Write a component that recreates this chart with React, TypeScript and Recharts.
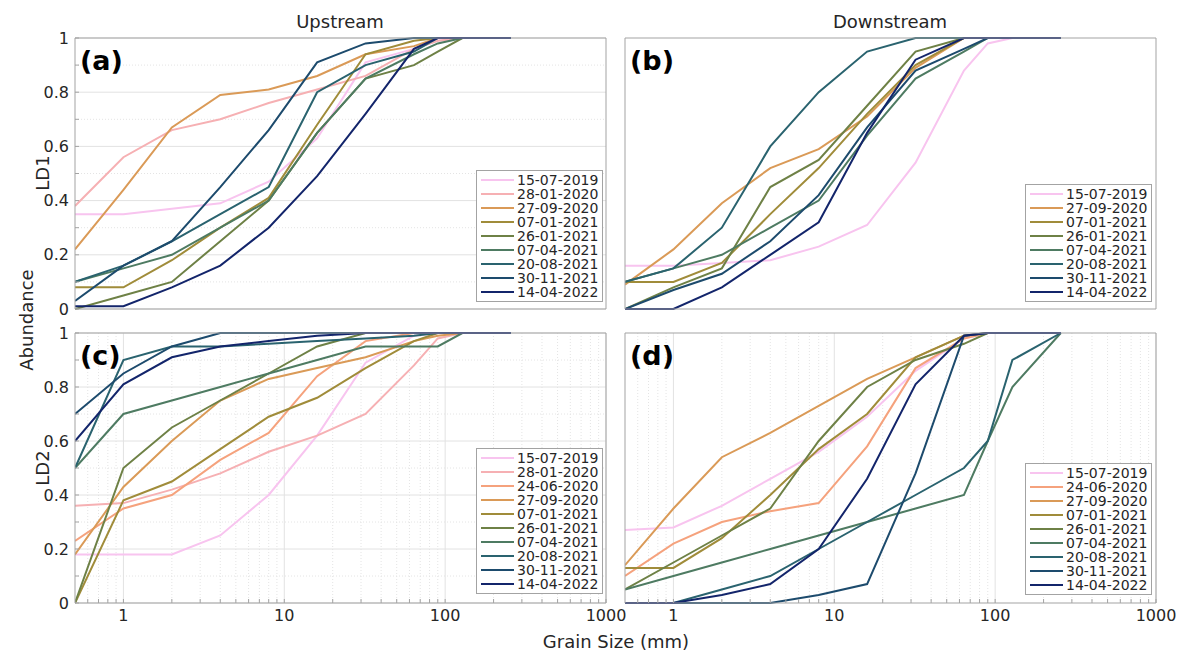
import React from "react";
import { LineChart, Line, XAxis, YAxis, CartesianGrid, Legend } from "recharts";

const FONT = "'DejaVu Sans', Verdana, sans-serif";
const AXIS = "#a3a3a3";
const TEXT = "#262626";

// grain size classes (mm)
const grainSize = [0.5, 1, 2, 4, 8, 16, 32, 64, 90, 128, 256];
const majorX = [1, 10, 100, 1000];
const minorX = [0.6, 0.7, 0.8, 0.9, 2, 3, 4, 5, 6, 7, 8, 9, 20, 30, 40, 50, 60, 70, 80, 90, 200, 300, 400, 500, 600, 700, 800, 900];
const majorY = [0, 0.2, 0.4, 0.6, 0.8, 1];
const minorY = [0.1, 0.3, 0.5, 0.7, 0.9];
const xTicks = [...majorX, ...minorX].sort((a, b) => a - b);
const yTicks = [...majorY, ...minorY].sort((a, b) => a - b);

const dateColors: Record<string, string> = {
  "15-07-2019": "#f8c4ef",
  "28-01-2020": "#f6b0b3",
  "24-06-2020": "#f5a27d",
  "27-09-2020": "#da9a57",
  "07-01-2021": "#a08c3a",
  "26-01-2021": "#6e8146",
  "07-04-2021": "#4e7b62",
  "20-08-2021": "#2a636f",
  "30-11-2021": "#1d4b6d",
  "14-04-2022": "#13256b",
};

// (a) Upstream, LD1
const upLD1_15072019 = [0.35, 0.35, 0.37, 0.39, 0.47, 0.63, 0.91, 0.96, 0.99, 1, 1];
const upLD1_28012020 = [0.38, 0.56, 0.66, 0.7, 0.76, 0.81, 0.86, 0.96, 0.99, 1, 1];
const upLD1_27092020 = [0.22, 0.44, 0.67, 0.79, 0.81, 0.86, 0.94, 0.97, 1, 1, 1];
const upLD1_07012021 = [0.08, 0.08, 0.18, 0.3, 0.41, 0.68, 0.94, 0.99, 1, 1, 1];
const upLD1_26012021 = [0, 0.05, 0.1, 0.25, 0.4, 0.65, 0.85, 0.9, 0.95, 1, 1];
const upLD1_07042021 = [0.1, 0.15, 0.2, 0.3, 0.4, 0.65, 0.85, 0.94, 0.98, 1, 1];
const upLD1_20082021 = [0.1, 0.16, 0.25, 0.35, 0.45, 0.8, 0.9, 0.95, 1, 1, 1];
const upLD1_30112021 = [0.03, 0.16, 0.25, 0.45, 0.66, 0.91, 0.98, 1, 1, 1, 1];
const upLD1_14042022 = [0.01, 0.01, 0.08, 0.16, 0.3, 0.49, 0.72, 0.96, 1, 1, 1];

// (b) Downstream, LD1
const downLD1_15072019 = [0.16, 0.16, 0.17, 0.18, 0.23, 0.31, 0.54, 0.88, 0.98, 1, 1];
const downLD1_27092020 = [0.09, 0.22, 0.39, 0.52, 0.59, 0.71, 0.89, 1, 1, 1, 1];
const downLD1_07012021 = [0.1, 0.1, 0.17, 0.35, 0.52, 0.72, 0.9, 1, 1, 1, 1];
const downLD1_26012021 = [0, 0.08, 0.15, 0.45, 0.55, 0.75, 0.95, 1, 1, 1, 1];
const downLD1_07042021 = [0.1, 0.15, 0.2, 0.3, 0.4, 0.64, 0.85, 0.95, 1, 1, 1];
const downLD1_20082021 = [0.1, 0.15, 0.3, 0.6, 0.8, 0.95, 1, 1, 1, 1, 1];
const downLD1_30112021 = [0, 0.07, 0.13, 0.25, 0.42, 0.67, 0.88, 0.96, 1, 1, 1];
const downLD1_14042022 = [0, 0, 0.08, 0.2, 0.32, 0.65, 0.92, 1, 1, 1, 1];

// (c) Upstream, LD2
const upLD2_15072019 = [0.18, 0.18, 0.18, 0.25, 0.4, 0.62, 0.89, 0.99, 1, 1, 1];
const upLD2_28012020 = [0.36, 0.37, 0.42, 0.48, 0.56, 0.62, 0.7, 0.88, 0.98, 1, 1];
const upLD2_24062020 = [0.23, 0.35, 0.4, 0.53, 0.63, 0.84, 0.97, 1, 1, 1, 1];
const upLD2_27092020 = [0.18, 0.43, 0.6, 0.75, 0.83, 0.87, 0.91, 0.97, 0.99, 1, 1];
const upLD2_07012021 = [0, 0.38, 0.45, 0.57, 0.69, 0.76, 0.87, 0.97, 1, 1, 1];
const upLD2_26012021 = [0, 0.5, 0.65, 0.75, 0.85, 0.95, 1, 1, 1, 1, 1];
const upLD2_07042021 = [0.5, 0.7, 0.75, 0.8, 0.85, 0.9, 0.95, 0.95, 0.95, 1, 1];
const upLD2_20082021 = [0.5, 0.9, 0.95, 0.95, 0.96, 0.97, 0.98, 0.99, 1, 1, 1];
const upLD2_30112021 = [0.7, 0.85, 0.95, 1, 1, 1, 1, 1, 1, 1, 1];
const upLD2_14042022 = [0.6, 0.81, 0.91, 0.95, 0.97, 0.99, 1, 1, 1, 1, 1];

// (d) Downstream, LD2
const downLD2_15072019 = [0.27, 0.28, 0.36, 0.46, 0.56, 0.69, 0.86, 0.98, 1, 1, 1];
const downLD2_24062020 = [0.1, 0.22, 0.3, 0.34, 0.37, 0.58, 0.87, 0.98, 1, 1, 1];
const downLD2_27092020 = [0.14, 0.35, 0.54, 0.63, 0.73, 0.83, 0.91, 0.99, 1, 1, 1];
const downLD2_07012021 = [0.13, 0.13, 0.24, 0.4, 0.57, 0.7, 0.91, 0.99, 1, 1, 1];
const downLD2_26012021 = [0.05, 0.15, 0.25, 0.35, 0.6, 0.8, 0.9, 0.96, 1, 1, 1];
const downLD2_07042021 = [0.05, 0.1, 0.15, 0.2, 0.25, 0.3, 0.35, 0.4, 0.6, 0.8, 1];
const downLD2_20082021 = [0, 0, 0.05, 0.1, 0.2, 0.3, 0.4, 0.5, 0.6, 0.9, 1];
const downLD2_30112021 = [0, 0, 0, 0, 0.03, 0.07, 0.48, 0.99, 1, 1, 1];
const downLD2_14042022 = [0, 0, 0.03, 0.07, 0.2, 0.46, 0.81, 0.99, 1, 1, 1];

type Series = { date: string; values: number[] };

const upLD1: Series[] = [
  { date: "15-07-2019", values: upLD1_15072019 },
  { date: "28-01-2020", values: upLD1_28012020 },
  { date: "27-09-2020", values: upLD1_27092020 },
  { date: "07-01-2021", values: upLD1_07012021 },
  { date: "26-01-2021", values: upLD1_26012021 },
  { date: "07-04-2021", values: upLD1_07042021 },
  { date: "20-08-2021", values: upLD1_20082021 },
  { date: "30-11-2021", values: upLD1_30112021 },
  { date: "14-04-2022", values: upLD1_14042022 },
];
const downLD1: Series[] = [
  { date: "15-07-2019", values: downLD1_15072019 },
  { date: "27-09-2020", values: downLD1_27092020 },
  { date: "07-01-2021", values: downLD1_07012021 },
  { date: "26-01-2021", values: downLD1_26012021 },
  { date: "07-04-2021", values: downLD1_07042021 },
  { date: "20-08-2021", values: downLD1_20082021 },
  { date: "30-11-2021", values: downLD1_30112021 },
  { date: "14-04-2022", values: downLD1_14042022 },
];
const upLD2: Series[] = [
  { date: "15-07-2019", values: upLD2_15072019 },
  { date: "28-01-2020", values: upLD2_28012020 },
  { date: "24-06-2020", values: upLD2_24062020 },
  { date: "27-09-2020", values: upLD2_27092020 },
  { date: "07-01-2021", values: upLD2_07012021 },
  { date: "26-01-2021", values: upLD2_26012021 },
  { date: "07-04-2021", values: upLD2_07042021 },
  { date: "20-08-2021", values: upLD2_20082021 },
  { date: "30-11-2021", values: upLD2_30112021 },
  { date: "14-04-2022", values: upLD2_14042022 },
];
const downLD2: Series[] = [
  { date: "15-07-2019", values: downLD2_15072019 },
  { date: "24-06-2020", values: downLD2_24062020 },
  { date: "27-09-2020", values: downLD2_27092020 },
  { date: "07-01-2021", values: downLD2_07012021 },
  { date: "26-01-2021", values: downLD2_26012021 },
  { date: "07-04-2021", values: downLD2_07042021 },
  { date: "20-08-2021", values: downLD2_20082021 },
  { date: "30-11-2021", values: downLD2_30112021 },
  { date: "14-04-2022", values: downLD2_14042022 },
];

const PAD_L = 70;
const PAD_T = 10;
const PAD_R = 30;
const PAD_B = 30;

type PanelProps = {
  series: Series[];
  tag: string;
  left: number;
  top: number;
  w: number;
  h: number;
  showX: boolean;
  showY: boolean;
  legendLeft: number;
  legendTop: number;
};

function Panel({ series, tag, left, top, w, h, showX, showY, legendLeft, legendTop }: PanelProps) {
  const data = grainSize.map((g, i) => {
    const row: Record<string, number> = { size: g };
    series.forEach((s, k) => (row["s" + k] = s.values[i]));
    return row;
  });
  const chartLeft = left - PAD_L;
  const chartTop = top - PAD_T;
  const tickFont = { fill: TEXT, fontSize: 16, fontFamily: FONT };

  const legendBox = () => (
    <div
      style={{
        background: "#fff",
        border: `1px solid ${AXIS}`,
        padding: "2px 4px",
        fontFamily: FONT,
        fontSize: 14,
        color: TEXT,
      }}
    >
      {series.map((s) => (
        <div key={s.date} style={{ display: "flex", alignItems: "center", height: 14, lineHeight: "14px" }}>
          <span style={{ width: 33, height: 2, background: dateColors[s.date], marginRight: 3, flex: "none" }} />
          <span>{s.date}</span>
        </div>
      ))}
    </div>
  );

  // top and right axes are 1px wide, so the margins give that pixel back
  return (
    <div style={{ position: "absolute", left: chartLeft, top: chartTop }}>
      <LineChart
        width={PAD_L + w + PAD_R}
        height={PAD_T + h + PAD_B}
        data={data}
        margin={{ top: PAD_T - 1, right: PAD_R - 1, left: 0, bottom: 0 }}
        style={{ overflow: "visible" }}
      >
        <CartesianGrid verticalValues={minorX} horizontalValues={minorY} stroke="#e4e4e4" strokeDasharray="1 2" />
        <CartesianGrid verticalValues={majorX} horizontalValues={majorY} stroke="#e2e2e2" />
        <XAxis
          dataKey="size"
          type="number"
          scale="log"
          domain={[0.5, 1000]}
          allowDataOverflow
          ticks={xTicks}
          interval={0}
          height={PAD_B}
          tickSize={-4}
          tickMargin={11}
          tick={showX ? tickFont : false}
          tickFormatter={(v: number) => (majorX.includes(v) ? String(v) : "")}
          axisLine={{ stroke: AXIS }}
          tickLine={{ stroke: AXIS }}
        />
        <XAxis
          xAxisId="top"
          orientation="top"
          dataKey="size"
          type="number"
          scale="log"
          domain={[0.5, 1000]}
          allowDataOverflow
          ticks={xTicks}
          interval={0}
          height={1}
          tickSize={-4}
          tick={false}
          axisLine={{ stroke: AXIS }}
          tickLine={{ stroke: AXIS }}
        />
        <YAxis
          type="number"
          domain={[0, 1]}
          ticks={yTicks}
          interval={0}
          width={PAD_L}
          tickSize={-4}
          tickMargin={10}
          tick={showY ? tickFont : false}
          tickFormatter={(v: number) => (majorY.includes(v) ? String(v) : "")}
          axisLine={{ stroke: AXIS }}
          tickLine={{ stroke: AXIS }}
        />
        <YAxis
          yAxisId="right"
          orientation="right"
          type="number"
          domain={[0, 1]}
          ticks={yTicks}
          interval={0}
          width={1}
          tickSize={-4}
          tick={false}
          axisLine={{ stroke: AXIS }}
          tickLine={{ stroke: AXIS }}
        />
        {series.map((s, k) => (
          <Line
            key={s.date}
            type="linear"
            dataKey={"s" + k}
            name={s.date}
            stroke={dateColors[s.date]}
            strokeWidth={2}
            dot={false}
            isAnimationActive={false}
          />
        ))}
        <Legend
          layout="horizontal"
          verticalAlign="middle"
          align="center"
          content={legendBox}
          wrapperStyle={{ left: legendLeft - chartLeft, top: legendTop - chartTop, width: "auto", height: "auto" }}
        />
      </LineChart>
      <div
        style={{
          position: "absolute",
          left: PAD_L + 5,
          top: PAD_T + 8,
          fontFamily: FONT,
          fontWeight: "bold",
          fontSize: 27,
          lineHeight: "30px",
          color: "#000",
        }}
      >
        {tag}
      </div>
    </div>
  );
}

const labelStyle: React.CSSProperties = {
  position: "absolute",
  fontFamily: FONT,
  fontSize: 18,
  color: TEXT,
  whiteSpace: "nowrap",
  lineHeight: "20px",
};

function VLabel({ text, x, y }: { text: string; x: number; y: number }) {
  return (
    <div style={{ ...labelStyle, left: x, top: y, transform: "translate(-50%, -50%) rotate(-90deg)" }}>{text}</div>
  );
}

export default function App() {
  return (
    <div style={{ position: "absolute", left: 0, top: 0, width: 1177, height: 652, background: "#fff" }}>
      <Panel series={upLD1} tag="(a)" left={75} top={38} w={531} h={271} showX={false} showY legendLeft={476} legendTop={170} />
      <Panel series={downLD1} tag="(b)" left={625} top={38} w={531} h={271} showX={false} showY={false} legendLeft={1025} legendTop={184} />
      <Panel series={upLD2} tag="(c)" left={75} top={333} w={531} h={270} showX showY legendLeft={476} legendTop={448} />
      <Panel series={downLD2} tag="(d)" left={625} top={333} w={531} h={270} showX showY={false} legendLeft={1025} legendTop={463} />

      <div style={{ ...labelStyle, left: 340, top: 12, transform: "translateX(-50%)" }}>Upstream</div>
      <div style={{ ...labelStyle, left: 890, top: 12, transform: "translateX(-50%)" }}>Downstream</div>
      <div style={{ ...labelStyle, left: 616, top: 632, transform: "translateX(-50%)" }}>Grain Size (mm)</div>
      <VLabel text="LD1" x={43} y={173} />
      <VLabel text="LD2" x={43} y={468} />
      <VLabel text="Abundance" x={27} y={320} />
    </div>
  );
}
